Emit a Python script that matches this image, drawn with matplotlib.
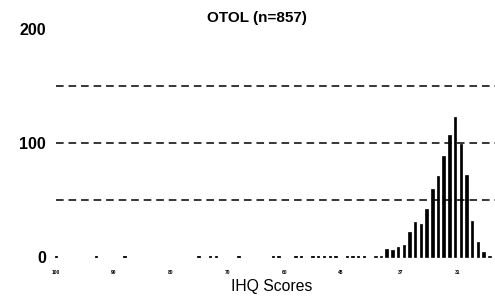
import matplotlib
matplotlib.use("Agg")
import matplotlib.pyplot as plt

# IHQ scores (histogram bins, 1 unit each) and counts
bar_scores = [44, 43, 42, 41, 40, 39, 38, 37, 36, 35, 34, 33, 32, 31, 30, 29, 28, 27, 26, 25, 24]
bar_counts = [1, 1, 7, 6, 9, 11, 22, 31, 29, 42, 60, 71, 89, 107, 123, 99, 72, 32, 13, 4, 1]

dot_scores = [100, 93, 88, 75, 73, 72, 68, 62, 61, 58, 57, 55, 54, 53, 52, 51, 49, 48, 47, 46]
dot_counts = [1, 1, 1, 1, 1, 1, 1, 1, 1, 1, 1, 1, 1, 1, 1, 1, 1, 1, 1, 1]

xtick_pos = [100, 90, 80, 70, 60, 50, 39.5, 29.5]
xtick_labels = ["100", "90", "80", "70", "60", "48", "37", "31"]
ytick_vals = [0, 100, 200]
grid_vals = [50, 100, 150]

title = "OTOL (n=857)"
xlabel = "IHQ Scores"

plt.rcParams['font.family'] = ['Liberation Sans', 'DejaVu Sans']

fig = plt.figure(figsize=(4.95, 2.97), dpi=100)
ax = fig.add_axes([0.096, 0.123, 0.904, 0.779])

for g in grid_vals:
    ax.axhline(g, color='black', lw=1.1, dashes=(5, 3.2), xmin=0.02, xmax=1.0, zorder=1)

ax.bar(bar_scores, bar_counts, width=0.45, color='black', edgecolor='black',
       linewidth=0.5, zorder=2)
ax.bar(dot_scores, dot_counts, width=0.4, color='black', edgecolor='black',
       linewidth=0.6, zorder=2)

ax.set_xlim(101.5, 23)
ax.set_ylim(-3, 200)

for s in ax.spines.values():
    s.set_visible(False)

ax.set_yticks(ytick_vals)
ax.set_yticklabels([str(v) for v in ytick_vals], fontsize=11.5, fontweight='bold')
ax.tick_params(axis='y', length=0, pad=1)

ax.set_xticks(xtick_pos)
ax.set_xticklabels(xtick_labels, fontsize=3.5, fontweight='bold')
ax.tick_params(axis='x', length=0, pad=7)

ax.set_xlabel(xlabel, fontsize=11.3, labelpad=3)
fig.text(0.52, 0.938, title, ha='center', va='center', fontsize=11, fontweight='bold')

fig.savefig("out.png", dpi=100)
